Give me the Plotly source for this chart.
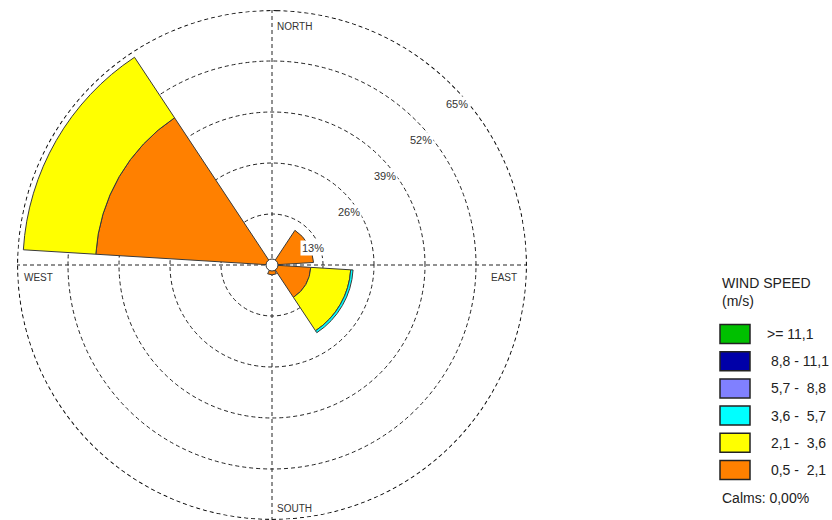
import math
import plotly.graph_objects as go

# ---------------- data ----------------
directions = [0, 60, 120, 180, 240, 300]          # compass bearing of each sector (deg)
speed_bins = ["0,5 -  2,1", "2,1 -  3,6", "3,6 -  5,7", "5,7 -  8,8", "8,8 - 11,1", ">= 11,1"]
bin_colors = ["#FF8000", "#FFFF00", "#00FFFF", "#8080FF", "#0000A8", "#00C000"]
freq_05_21 = [0.0, 10.6, 9.9, 2.5, 0.0, 45.0]
freq_21_36 = [0.0, 0.0, 10.2, 0.0, 0.0, 18.5]
freq_36_57 = [0.0, 0.0, 0.6, 0.0, 0.0, 0.0]
freq_57_88 = [0.0, 0.0, 0.0, 0.0, 0.0, 0.0]
freq_88_111 = [0.0, 0.0, 0.0, 0.0, 0.0, 0.0]
freq_111 = [0.0, 0.0, 0.0, 0.0, 0.0, 0.0]
ring_ticks = [13, 26, 39, 52, 65]
ring_labels = ["13%", "26%", "39%", "52%", "65%"]
compass_names = ["NORTH", "EAST", "SOUTH", "WEST"]
calms_text = "Calms: 0,00%"
legend_title = "WIND SPEED<br>(m/s)"

series = [freq_05_21, freq_21_36, freq_36_57, freq_57_88, freq_88_111, freq_111]

# ---------------- geometry ----------------
W, H = 832, 520
top_m = 10
R = (H - top_m) / 2.0          # polar radius in px
cx, cy = 272.0, top_m + R      # center px
rmax = 65.0
FONT = "Liberation Sans, Arial, sans-serif"
GRID_DASH = "4px,3px"


def px2paper(px, py):
    return px / W, (H - py) / (H - top_m)


def polar_px(r, bearing):
    b = math.radians(bearing)
    return cx + R * r / rmax * math.sin(b), cy - R * r / rmax * math.cos(b)


fig = go.Figure()

# outer dashed ring (the last ring tick sits on the plot edge)
ring_theta = list(range(0, 361, 1))
fig.add_trace(go.Scatterpolar(
    r=[ring_ticks[-1] * 0.998] * len(ring_theta), theta=ring_theta, mode="lines",
    line=dict(color="#111111", width=1.2, dash=GRID_DASH, shape="spline"),
    showlegend=False, hoverinfo="skip", cliponaxis=False,
))

for vals, lab, col in zip(series, speed_bins, bin_colors):
    fig.add_trace(go.Barpolar(
        r=vals, theta=directions, width=[53] * len(directions), name=lab,
        marker=dict(color=col, line=dict(color="#3a3a3a", width=1)),
        showlegend=False,
    ))

# calm circle in the middle
fig.add_trace(go.Scatterpolar(
    r=[0], theta=[0], mode="markers",
    marker=dict(size=12, color="white", line=dict(color="#333333", width=1)),
    showlegend=False, hoverinfo="skip",
))

fig.update_layout(
    width=W, height=H,
    margin=dict(l=0, r=0, t=top_m, b=0),
    paper_bgcolor="white",
    polar=dict(
        domain=dict(x=[(cx - R) / W, (cx + R) / W], y=[0, 1]),
        bgcolor="white",
        barmode="stack",
        radialaxis=dict(
            range=[0, rmax], tickvals=ring_ticks, showticklabels=False, ticks="",
            showline=False, gridcolor="#222222", griddash=GRID_DASH, gridwidth=1,
        ),
        angularaxis=dict(
            rotation=90, direction="clockwise", tickvals=[0, 90, 180, 270],
            showticklabels=False, ticks="", showline=False,
            gridcolor="#222222", griddash=GRID_DASH, gridwidth=1,
        ),
    ),
    font=dict(family=FONT, color="#333333"),
)

annotations = []
# ring labels along the NE diagonal
for v, t in zip(ring_ticks, ring_labels):
    px, py = polar_px(v, 45)
    x, y = px2paper(px + 5, py + 19)
    annotations.append(dict(x=x, y=y, xref="paper", yref="paper", text=t, showarrow=False,
                            font=dict(size=11, color="#333333", family=FONT),
                            bgcolor="white", borderpad=1, xanchor="center", yanchor="middle"))

# compass labels inside the outer ring
comp_specs = {
    "NORTH": (0, 3, 9, "left", "top"),
    "EAST": (90, -8, 5, "right", "top"),
    "SOUTH": (180, 3, -4, "left", "bottom"),
    "WEST": (270, 5, 5, "left", "top"),
}
for name in compass_names:
    bearing, dx, dy, xa, ya = comp_specs[name]
    px, py = polar_px(rmax, bearing)
    x, y = px2paper(px + dx, py + dy)
    annotations.append(dict(x=x, y=y, xref="paper", yref="paper", text=name, showarrow=False,
                            font=dict(size=10, color="#333333", family=FONT),
                            xanchor=xa, yanchor=ya))

# custom legend
lx0, lw, lh = 720, 30, 19
row0, step = 334, 27.2
x, y = px2paper(lx0, 273)
annotations.append(dict(x=x, y=y, xref="paper", yref="paper", text=legend_title, showarrow=False,
                        align="left", xanchor="left", yanchor="top",
                        font=dict(size=14, color="#222222", family=FONT)))
shapes = []
for i, (lab, col) in enumerate(zip(reversed(speed_bins), reversed(bin_colors))):
    yc = row0 + i * step
    x0, y0 = px2paper(lx0, yc + lh / 2)
    x1, y1 = px2paper(lx0 + lw, yc - lh / 2)
    shapes.append(dict(type="rect", xref="paper", yref="paper", x0=x0, y0=y0, x1=x1, y1=y1,
                       fillcolor=col, line=dict(color="#222222", width=1.5)))
    txt = lab if lab.startswith(">") else "\u00a0" + lab.replace("  ", "\u00a0\u00a0")
    tx, ty = px2paper(765, yc)
    annotations.append(dict(x=tx, y=ty, xref="paper", yref="paper", text=txt, showarrow=False,
                            xanchor="left", yanchor="middle",
                            font=dict(size=14, color="#222222", family=FONT)))
cxp, cyp = px2paper(lx0, 498)
annotations.append(dict(x=cxp, y=cyp, xref="paper", yref="paper", text=calms_text, showarrow=False,
                        xanchor="left", yanchor="middle",
                        font=dict(size=14, color="#222222", family=FONT)))

fig.update_layout(annotations=annotations, shapes=shapes)
fig.write_html("out.html")
